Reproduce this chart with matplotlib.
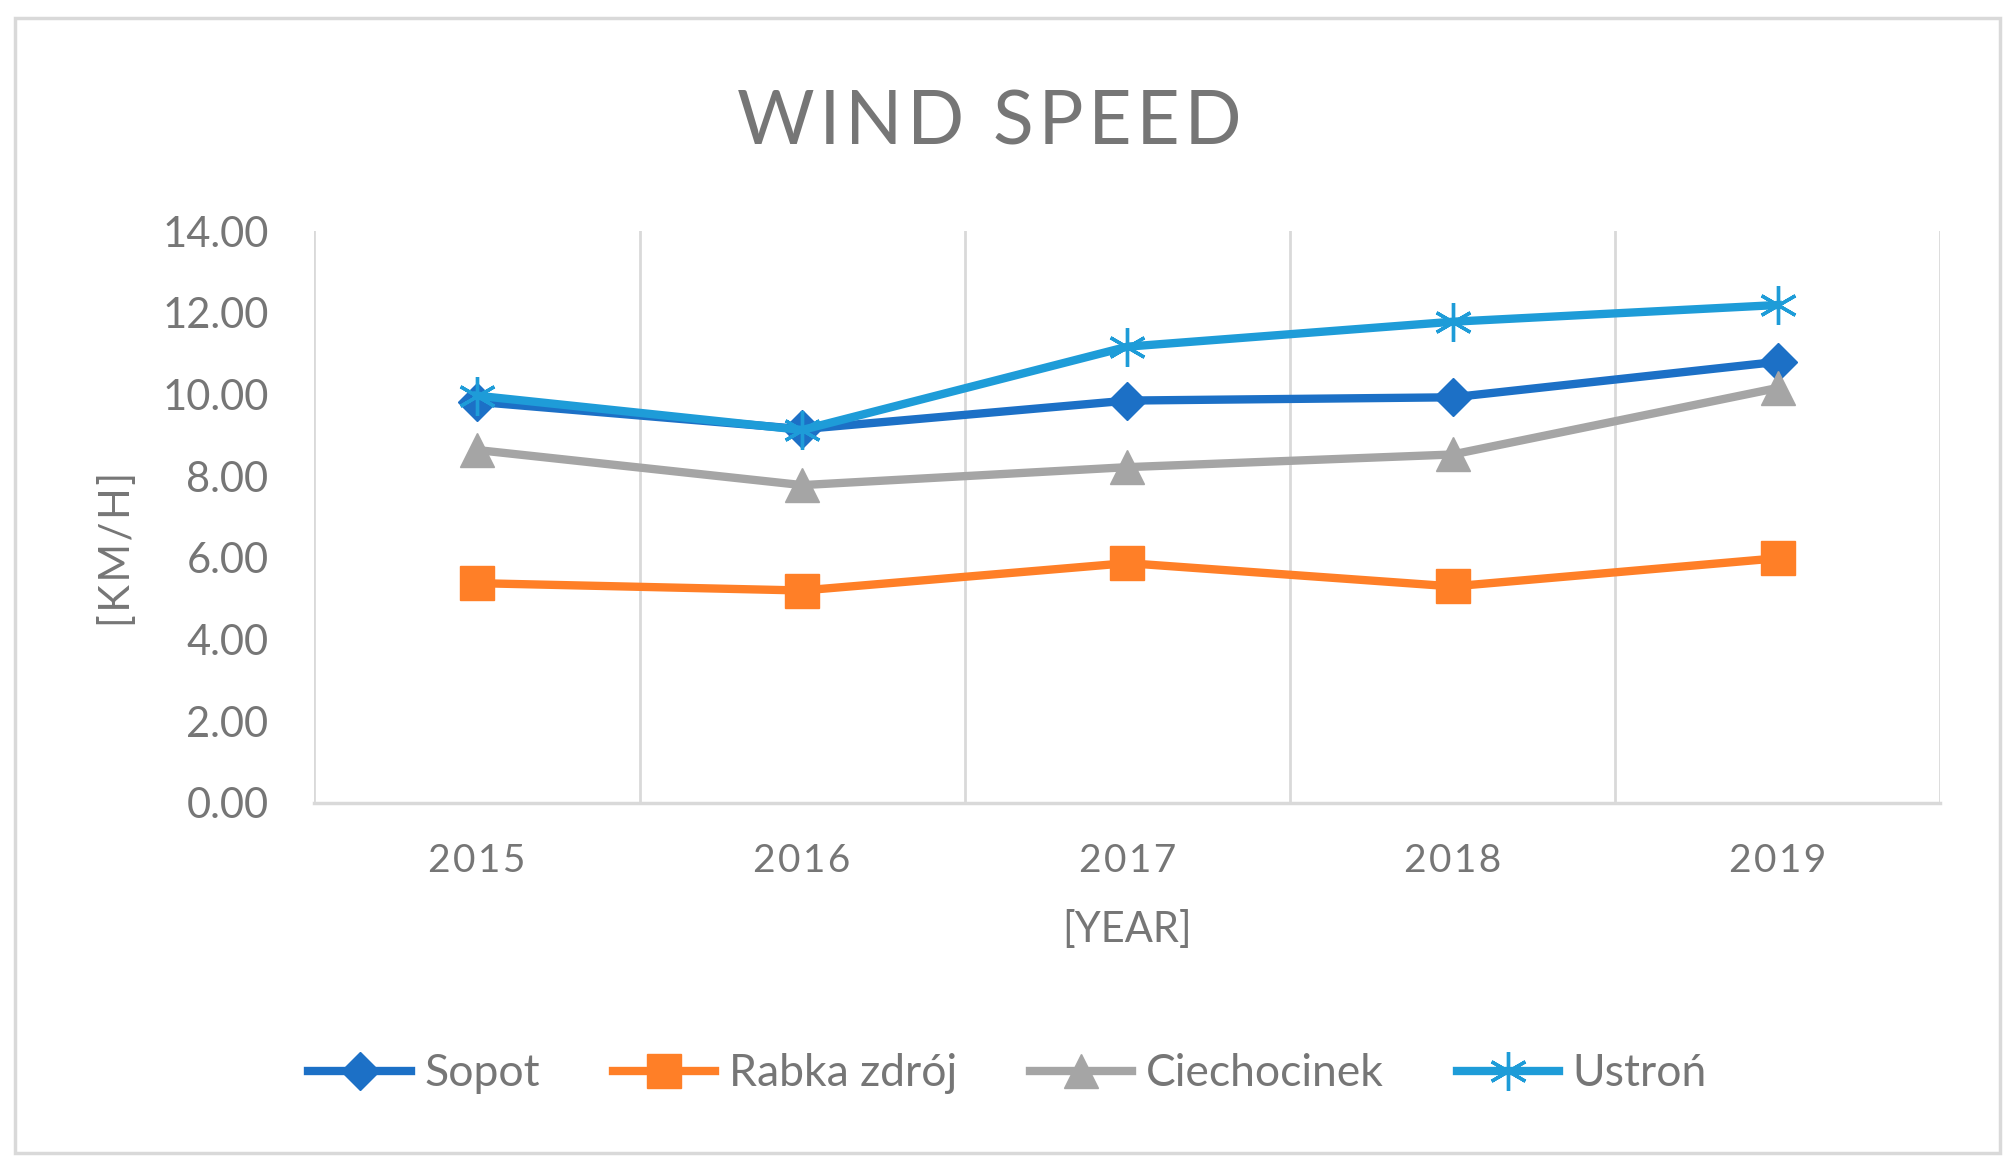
import matplotlib
matplotlib.use("Agg")
from matplotlib import pyplot as plt
from matplotlib.patches import Rectangle

years = ["2015", "2016", "2017", "2018", "2019"]
sopot = [9.82, 9.15, 9.85, 9.93, 10.80]
rabka = [5.38, 5.20, 5.87, 5.30, 5.99]
ciechocinek = [8.64, 7.78, 8.22, 8.53, 10.16]
ustron = [9.97, 9.13, 11.17, 11.78, 12.19]

series_names = ["Sopot", "Rabka zdrój", "Ciechocinek", "Ustroń"]

plt.rcParams["font.family"] = ["Lato", "DejaVu Sans"]
txt = "#767676"
grid = "#d9d9d9"
HS = "\u200a"  # hair space, for the letter spacing Excel uses


def spaced(s):
    return HS.join(s)


fig = plt.figure(figsize=(20.15, 11.67), dpi=100)
ax = fig.add_axes([0.156, 0.312, 0.807, 0.490])

x = range(len(years))
lw = 6
ax.plot(x, sopot, color="#1c70c6", lw=lw, marker="D", ms=19, label=series_names[0], zorder=3)
ax.plot(x, rabka, color="#ff7f27", lw=lw, marker="s", ms=25, label=series_names[1], zorder=3)
ax.plot(x, ciechocinek, color="#a5a5a5", lw=lw, marker="^", ms=25, label=series_names[2], zorder=3)
ax.plot(x, ustron, color="#1e9cd8", lw=lw, marker=(6, 2, 0), ms=28, mew=2.4,
        label=series_names[3], zorder=4)

ax.set_xlim(-0.5, len(years) - 0.5)
ax.set_ylim(0, 14)
ax.set_yticks(range(0, 15, 2))
ax.set_yticklabels([f"{v:.2f}" for v in range(0, 15, 2)])
ax.set_xticks(list(x))
ax.set_xticklabels([spaced(y) for y in years], fontsize=28)

# vertical grid lines between categories
for b in [i - 0.5 for i in range(len(years) + 1)]:
    ax.axvline(b, color=grid, lw=2, zorder=1)

for s in ["top", "right", "left"]:
    ax.spines[s].set_visible(False)
ax.spines["bottom"].set_color(grid)
ax.spines["bottom"].set_linewidth(2.5)
ax.tick_params(axis="both", length=0, labelsize=30, labelcolor=txt)
ax.tick_params(axis="x", labelsize=28, pad=29)
ax.tick_params(axis="y", pad=33)

ax.set_ylabel(spaced("[KM/H]"), fontsize=30, color=txt, va="center")
ax.yaxis.set_label_coords(-0.121, 0.444)
ax.set_xlabel("[YEAR]", fontsize=30, color=txt, va="center")
ax.xaxis.set_label_coords(0.5, -0.222)

fig.text(0.491, 0.895, spaced("WIND SPEED"), ha="center", va="center", fontsize=54, color=txt)

fig.legend(loc="center", bbox_to_anchor=(0.5, 0.080), ncol=4, frameon=False,
           fontsize=32, labelcolor=txt, handlelength=2.3, handletextpad=0.3,
           columnspacing=1.65)

fig.patches.append(Rectangle((15 / 2015, 14 / 1167), 1985 / 2015, 1135 / 1167,
                             transform=fig.transFigure, fill=False,
                             edgecolor=grid, lw=2.5))

fig.savefig("out.png", dpi=100)
